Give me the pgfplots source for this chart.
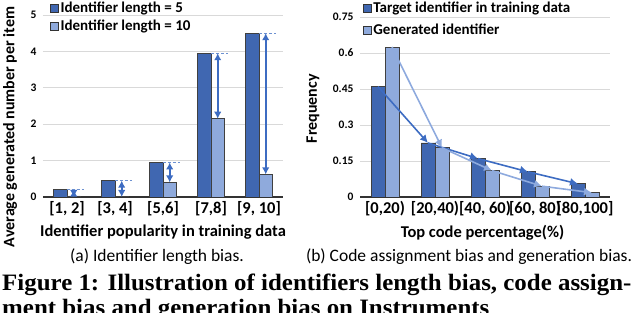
\documentclass[border=0pt]{standalone}
\usepackage{fontspec}
\setmainfont{Carlito}
\newfontfamily\capfont{Liberation Serif}
\usepackage{pgfplots}
\pgfplotsset{compat=1.18}
\usetikzlibrary{arrows.meta}
\definecolor{darkbar}{HTML}{4067B1}
\definecolor{lightbar}{HTML}{8FAADC}
\definecolor{arrowblue}{HTML}{3D6CC2}
\definecolor{lightline}{HTML}{8EAADE}
\definecolor{gridgray}{HTML}{D9D9D9}
\pgfplotsset{
  mychart/.style={
    scale only axis,
    anchor=south west,
    xmin=-0.5, xmax=4.5, ymin=0,
    axis x line*=bottom, axis y line*=left,
    y axis line style={draw=none},
    x axis line style={draw=black!80, line width=1.3pt},
    major tick length=0pt,
    ymajorgrids, grid style={gridgray, line width=0.8pt},
    xtick={0,1,2,3,4},
    xticklabel style={font=\bfseries\fontsize{16.5}{16.5}\selectfont, yshift=-1pt},
    yticklabel style={font=\bfseries\fontsize{11.5}{11.5}\selectfont, xshift=-3pt},
    every axis x label/.style={font=\bfseries\fontsize{16.5}{16.5}\selectfont, anchor=center},
    every axis y label/.style={font=\bfseries\fontsize{16}{16}\selectfont, anchor=center, rotate=90},
    legend cell align=left,
    legend image code/.code={\draw[#1, draw=black!80, line width=0.6pt] (0pt,-3.8pt) rectangle (7.6pt,3.8pt);},
    legend style={draw=none, fill=none, anchor=north west, inner sep=0pt,
      font=\bfseries\fontsize{15}{15}\selectfont, /tikz/every even column/.append style={column sep=3pt}},
  },
  darkb/.style={ybar, bar width=0.28, bar shift=-0.14, fill=darkbar, draw=black!75, line width=0.6pt},
  lightb/.style={ybar, bar width=0.28, bar shift=0.14, fill=lightbar, draw=black!75, line width=0.6pt},
  garrow/.style={arrowblue, line width=1.9pt, {Latex[length=7pt,width=7.5pt]}-{Latex[length=7pt,width=7.5pt]}, forget plot},
  gdash/.style={arrowblue!75, line width=1pt, dash pattern=on 3pt off 2pt, forget plot},
  darrow/.style={arrowblue, line width=1.6pt, -{Latex[length=8pt,width=8pt]}, forget plot},
  larrow/.style={lightline, line width=1.6pt, -{Latex[length=8pt,width=8pt]}, forget plot},
}
\begin{document}
\begin{tikzpicture}[x=1pt,y=1pt]
\useasboundingbox (0,0) rectangle (640,313);
% ---------- (a) ----------
\begin{axis}[mychart,
  at={(43pt,116pt)}, width=240pt, height=182pt,
  ymax=5, ytick={0,1,2,3,4,5}, yticklabels={0,1,2,3,4,5},
  xticklabels={{[1, 2]},{[3, 4]},{[5,6]},{[7,8]},{[9, 10]}},
  xlabel={Identifier popularity in training data},
  xlabel style={at={(axis description cs:0.5,-0.192)}},
  ylabel={Average generated number per item},
  ylabel style={at={(axis description cs:-0.1375,0.385)}},
  legend style={at={(axis description cs:0.03,1.082)}, row sep=2pt},
]
\addplot[darkb] coordinates {(0,0.2) (1,0.45) (2,0.95) (3,3.95) (4,4.5)};
\addplot[lightb] coordinates {(0,0.03) (1,0.01) (2,0.4) (3,2.15) (4,0.62)};
\legend{Identifier length = 5, Identifier length = 10}
\addplot[gdash] coordinates {(0.0,0.2) (0.35,0.2)};
\addplot[gdash] coordinates {(1.0,0.45) (1.35,0.45)};
\addplot[gdash] coordinates {(2.0,0.95) (2.35,0.95)};
\addplot[gdash] coordinates {(3.0,3.95) (3.35,3.95)};
\addplot[gdash] coordinates {(4.0,4.5) (4.35,4.5)};
\addplot[garrow] coordinates {(0.14,0.2) (0.14,0.0)};
\addplot[garrow] coordinates {(1.14,0.45) (1.14,0.0)};
\addplot[garrow] coordinates {(2.14,0.95) (2.14,0.4)};
\addplot[garrow] coordinates {(3.14,3.95) (3.14,2.15)};
\addplot[garrow] coordinates {(4.14,4.5) (4.14,0.62)};
\end{axis}
% ---------- (b) ----------
\begin{axis}[mychart,
  at={(360pt,116pt)}, width=250pt, height=180pt,
  ymax=0.75, ytick={0,0.15,0.3,0.45,0.6,0.75}, yticklabels={0,0.15,0.3,0.45,0.6,0.75},
  xticklabels={{[0,20)},{[20,40)},{[40, 60)},{[60, 80)},{[80,100]}},
  xlabel={Top code percentage(\%)},
  xlabel style={at={(axis description cs:0.49,-0.2)}},
  ylabel={Frequency},
  ylabel style={at={(axis description cs:-0.188,0.49)}},
  legend style={at={(axis description cs:0.012,1.094)}, row sep=6pt},
]
\addplot[darkb] coordinates {(0,0.46) (1,0.225) (2,0.16) (3,0.105) (4,0.055)};
\addplot[lightb] coordinates {(0,0.625) (1,0.205) (2,0.11) (3,0.045) (4,0.018)};
\legend{Target identifier in training data, Generated identifier}
\addplot[darrow] coordinates {(-0.14,0.46) (0.86,0.225)};
\addplot[darrow] coordinates {(0.86,0.225) (1.86,0.16)};
\addplot[darrow] coordinates {(1.86,0.16) (2.86,0.105)};
\addplot[darrow] coordinates {(2.86,0.105) (3.86,0.055)};
\addplot[larrow] coordinates {(0.14,0.625) (1.14,0.205)};
\addplot[larrow] coordinates {(1.14,0.205) (2.14,0.11)};
\addplot[larrow] coordinates {(2.14,0.11) (3.14,0.045)};
\addplot[larrow] coordinates {(3.14,0.045) (4.14,0.018)};
\end{axis}
% ---------- captions ----------
\node[font=\fontsize{17.5}{17.5}\selectfont, anchor=center] at (157,56) {(a) Identifier length bias.};
\node[font=\fontsize{17.5}{17.5}\selectfont, anchor=center] at (469,56) {(b) Code assignment bias and generation bias.};
\node[font=\capfont\bfseries\fontsize{23.5}{23.5}\selectfont, anchor=base west, inner sep=0pt] at (2,22) {\scalebox{1.06}[1]{Figure 1: Illustration of identifiers length bias, code assign-}};
\node[font=\capfont\bfseries\fontsize{23.5}{23.5}\selectfont, anchor=base west, inner sep=0pt] at (2,-3) {\scalebox{1.06}[1]{ment bias and generation bias on Instruments}};
\end{tikzpicture}
\end{document}
